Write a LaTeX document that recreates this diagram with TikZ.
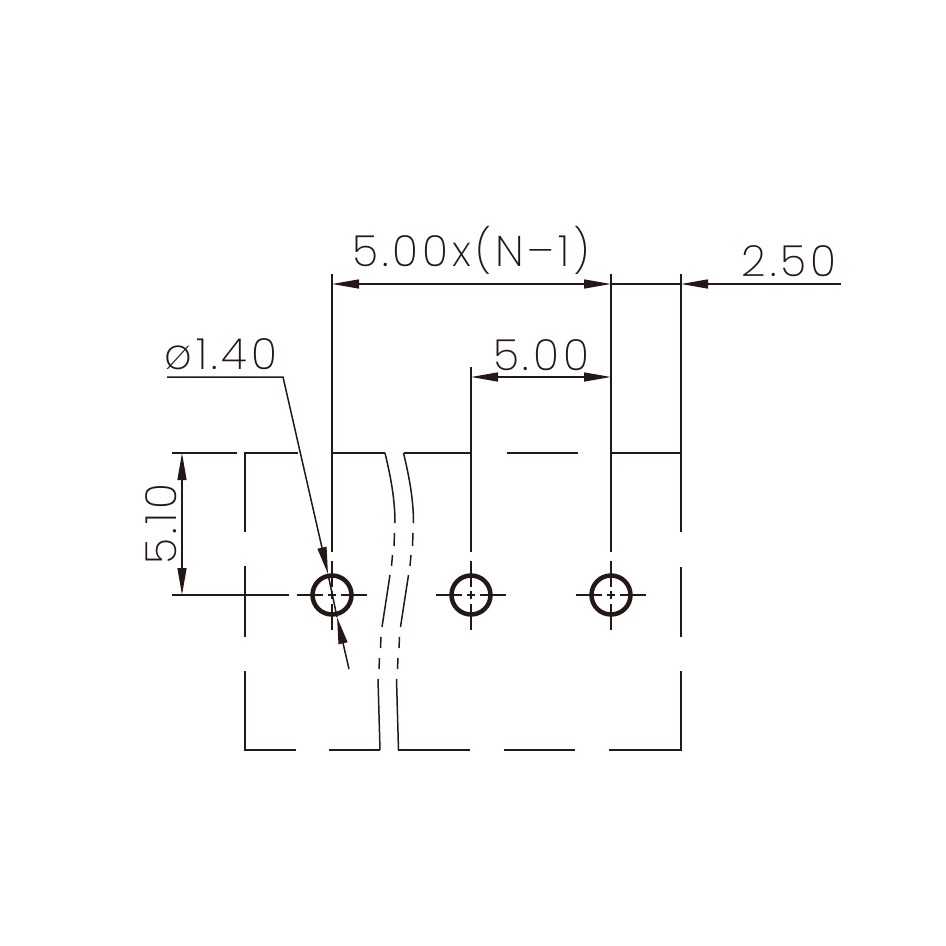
\documentclass[tikz,border=0pt]{standalone}
\usepackage{fontspec}
\usepackage{xcolor}
\usetikzlibrary{arrows.meta}
\newfontfamily\dimfont{Poppins ExtraLight}[LetterSpace=9,Kerning=Off]
\definecolor{ink}{HTML}{231815}
\tikzset{
  part/.style={draw=ink, line width=1.5pt},
  dimline/.style={draw=ink, line width=1.5pt},
  dimarr/.style={dimline, {Triangle[length=27pt,width=9pt,fill=ink]}-{Triangle[length=27pt,width=9pt,fill=ink]}},
  endarr/.style={dimline, -{Triangle[length=27pt,width=9pt,fill=ink]}},
  hole/.style={circle, draw=ink, line width=4.5pt, minimum size=39pt, inner sep=0pt},
  dimtext/.style={text=ink, inner sep=0pt, font=\dimfont\fontsize{43}{43}\selectfont}
}

\begin{document}
\begin{tikzpicture}[x=1pt, y=-1pt]
  \useasboundingbox (0,0) rectangle (946,946);

  % pin holes with centre marks
  \foreach \name/\px in {holeA/332, holeB/471, holeC/611} {
    \node[hole] (\name) at (\px,595) {};
    \draw[part] (\px-35,595) -- (\px-9,595) (\px-4,595) -- (\px+4,595) (\px+9,595) -- (\px+35,595);
    \draw[part] (\px,561) -- (\px,587) (\px,591) -- (\px,599) (\px,604) -- (\px,630);
  }

  % top edge
  \draw[part] (172,453) -- (237,453);
  \draw[part] (332,453) -- (385,453);
  \draw[part] (245,532) -- (245,453) -- (298,453);
  \draw[part] (404,453) -- (471,453);
  \draw[part] (507,453) -- (578,453);
  \draw[part] (611,453) -- (681,453);

  % bottom edge
  \draw[part] (245,671) -- (245,750) -- (296,750);
  \draw[part] (329,750) -- (380,750);
  \draw[part] (398,750) -- (470,750);
  \draw[part] (504,750) -- (575,750);
  \draw[part] (609,750) -- (681,750) -- (681,671);

  % side edges
  \draw[part] (245,566) -- (245,637);
  \draw[part] (681,567) -- (681,637);

  % break lines
  \foreach \o in {0,18.5} {
    \draw[part] (385+\o,453) .. controls (391+\o,478) and (395+\o,500) .. (395+\o,523);
    \draw[part] (394.5+\o,533) -- (394+\o,546);
    \draw[part] (392.5+\o,555) -- (391.5+\o,566);
    \draw[part] (390+\o,575) -- (382+\o,627);
    \draw[part] (381+\o,637) -- (380.5+\o,648);
    \draw[part] (379.5+\o,658) -- (379+\o,669);
    \draw[part] (378+\o,679) -- (380+\o,750);
  }

  % extension lines
  \draw[dimline] (332,274) -- (332,552);
  \draw[dimline] (471,367) -- (471,552);
  \draw[dimline] (611,274) -- (611,552);
  \draw[dimline] (681,274) -- (681,532);
  \draw[dimline] (172,595) -- (289,595);

  % dimension anchors
  \coordinate (totalL) at (332,284);
  \coordinate (totalR) at (611,284);
  \coordinate (edgeR) at (681,284);
  \coordinate (edgeEnd) at (841,284);
  \coordinate (pitchL) at (471,377);
  \coordinate (pitchR) at (611,377);
  \coordinate (heightT) at (182,453);
  \coordinate (heightB) at (182,595);
  \coordinate (leadStart) at (167,377);
  \coordinate (leadKnee) at (283,377);
  \coordinate (leadTip) at (328,574);
  \coordinate (backTip) at (337,617);
  \coordinate (backEnd) at (349,669);

  % dimensions
  \draw[dimarr] (totalL) -- (totalR);
  \draw[dimline] (totalR) -- (edgeR);
  \draw[endarr] (edgeEnd) -- (edgeR);
  \draw[dimarr] (pitchL) -- (pitchR);
  \draw[dimarr] (heightT) -- (heightB);

  % diameter leader
  \draw[endarr] (leadStart) -- (leadKnee) -- (leadTip);
  \draw[dimline] (leadTip) -- (backTip);
  \draw[endarr] (backEnd) -- (backTip);

  % labels
  \node[dimtext] (totalText) at (471,250) {5.00x(N–1)};
  \node[dimtext] (edgeText) at (789,261) {2.50};
  \node[dimtext] (pitchText) at (541,355) {5.00};
  \node[dimtext] (diaText) at (221,354) {ø1.40};
  \node[dimtext, rotate=90] (heightText) at (161,524) {5.10};
\end{tikzpicture}
\end{document}
